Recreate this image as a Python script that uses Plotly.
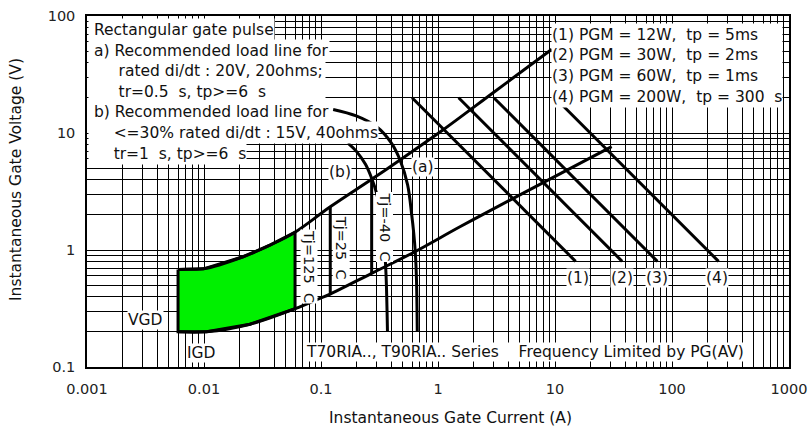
import plotly.graph_objects as go

# axis ticks
x_tickvals = [0.001, 0.01, 0.1, 1, 10, 100, 1000]
x_ticktext = ["0.001", "0.01", "0.1", "1", "10", "100", "1000"]
y_tickvals = [0.1, 1, 10, 100]
y_ticktext = ["0.1", "1", "10", "100"]
minor_digits = [2, 3, 4, 5, 6, 7, 8, 9]

# gate trigger area, upper and lower boundary (A, V)
upper_current = [0.006, 0.0075, 0.0099, 0.0216, 0.0366, 0.06, 0.12, 0.271, 0.473, 1.1, 3.0, 9.4]
upper_voltage = [0.68, 0.685, 0.69, 0.876, 1.10, 1.42, 2.34, 4.02, 5.88, 10.6, 22.3, 52]
lower_current = [0.006, 0.0105, 0.0247, 0.06, 0.098, 0.12, 0.271, 0.635, 1.54, 4.12, 30.5]
lower_voltage = [0.2, 0.2, 0.232, 0.315, 0.386, 0.42, 0.632, 0.967, 1.58, 2.67, 7.64]
green_limit = 0.06  # Tj=125 C edge

# temperature limits
tj25_current = [0.12, 0.12]
tj25_voltage = [0.42, 2.34]
tj40_current = [0.271, 0.271]
tj40_voltage = [0.632, 4.02]

# load lines (a) and (b)
load_a_current = [0.127, 0.2, 0.299, 0.4, 0.473, 0.55, 0.596, 0.62, 0.64, 0.655, 0.665]
load_a_voltage = [15.9, 14.0, 11.3, 8.2, 5.9, 3.6, 2.0, 1.4, 0.95, 0.55, 0.2]
load_b_current = [0.17, 0.2, 0.24, 0.271, 0.3, 0.33, 0.35, 0.36, 0.37]
load_b_voltage = [8.2, 7.0, 5.4, 4.1, 3.0, 1.8, 1.0, 0.6, 0.2]

# peak gate power lines (1)..(4)
pgm_labels = ["(1)", "(2)", "(3)", "(4)"]
pgm_start_current = [0.6, 1.5, 3.0, 10.0]
pgm_end_current = [15.0, 37.5, 75.0, 250.0]
pgm_start_voltage = [20, 20, 20, 20]
pgm_end_voltage = [0.8, 0.8, 0.8, 0.8]

FONT = "DejaVu Sans"
NB = "\u00a0"
LW = 3

fig = go.Figure()

# green area
g_top = [(i, v) for i, v in zip(upper_current, upper_voltage) if i <= green_limit]
g_bot = [(i, v) for i, v in zip(lower_current, lower_voltage) if i <= green_limit]
poly = g_top + g_bot[::-1] + g_top[:1]
fig.add_trace(go.Scatter(
    x=[p[0] for p in poly], y=[p[1] for p in poly],
    mode="lines", fill="toself", fillcolor="#00f000",
    line=dict(color="black", width=LW), hoverinfo="skip"))

black = dict(color="black", width=LW)
fig.add_trace(go.Scatter(x=upper_current, y=upper_voltage, mode="lines",
                         line=dict(black, shape="spline"), name="upper"))
fig.add_trace(go.Scatter(x=lower_current, y=lower_voltage, mode="lines",
                         line=dict(black, shape="spline"), name="lower"))
fig.add_trace(go.Scatter(x=tj25_current, y=tj25_voltage, mode="lines", line=black))
fig.add_trace(go.Scatter(x=tj40_current, y=tj40_voltage, mode="lines", line=black))
fig.add_trace(go.Scatter(x=load_a_current, y=load_a_voltage, mode="lines",
                         line=dict(black, shape="spline"), name="(a)"))
fig.add_trace(go.Scatter(x=load_b_current, y=load_b_voltage, mode="lines",
                         line=dict(black, shape="spline"), name="(b)"))
for k in range(len(pgm_labels)):
    fig.add_trace(go.Scatter(
        x=[pgm_start_current[k], pgm_end_current[k]],
        y=[pgm_start_voltage[k], pgm_end_voltage[k]],
        mode="lines", line=black, name=pgm_labels[k]))


# annotation placement, in pixels (plot area 87..789 x 16..367)
def px(x):
    return (x - 87) / 702


def py(y):
    return (367 - y) / 351


def label(text, x, y, size=15.5, bg="white", xanchor="center", **kw):
    fig.add_annotation(text=text, x=px(x), y=py(y), xref="paper", yref="paper",
                       xanchor=xanchor, yanchor="middle",
                       showarrow=False, bgcolor=bg, borderpad=0,
                       font=dict(family=FONT, size=size, color="#111"), **kw)


left_rows = [
    ("Rectangular gate pulse", None),
    ("a) Recommended load line for", None),
    (NB * 5 + "rated di/dt : 20V, 20ohms;", 236),
    (NB * 5 + "tr=0.5" + NB * 2 + "s, tp>=6" + NB * 2 + "s", 236),
    ("b) Recommended load line for", None),
    (NB * 4 + "<=30% rated di/dt : 15V, 40ohms", None),
    (NB * 4 + "tr=1" + NB * 2 + "s, tp>=6" + NB * 2 + "s", None),
]
for r, (txt, w) in enumerate(left_rows):
    label(NB + txt, 88, 29.5 + 20.6 * r, xanchor="left", align="left", width=w, height=21)

right_rows = [
    "(1) PGM = 12W," + NB * 2 + "tp = 5ms",
    "(2) PGM = 30W," + NB * 2 + "tp = 2ms",
    "(3) PGM = 60W," + NB * 2 + "tp = 1ms",
    "(4) PGM = 200W," + NB * 2 + "tp = 300" + NB * 2 + "s",
]
for r, txt in enumerate(right_rows):
    label(txt, 551, 34 + 20.8 * r, xanchor="left", align="left", width=230, height=21)

label("(b)", 340, 171.7)
label("(a)", 423.3, 167.3)
for txt, x in zip(pgm_labels, [577.7, 621.7, 656.7, 716.7]):
    label(txt, x, 277.7)
label("VGD", 145, 320)
label("IGD", 201.7, 352.7)
label("T70RIA.., T90RIA.. Series" + NB * 4 + "Frequency Limited by PG(AV)", 525, 352)
label("Tj=125" + NB * 2 + "C", 309, 266, size=14.5, textangle=90)
label("Tj=25" + NB * 2 + "C", 341.7, 247.5, size=14.5, textangle=90)
label("Tj=-40" + NB * 2 + "C", 385, 226.5, size=14.5, textangle=90)

# axis titles
label("Instantaneous Gate Current (A)", 450, 418, size=15.5, bg="rgba(0,0,0,0)")
label("Instantaneous Gate Voltage (V)", 16, 180, size=15.5, bg="rgba(0,0,0,0)", textangle=-90)

axis_common = dict(
    type="log", showline=True, linecolor="black", linewidth=1.5, mirror="allticks",
    ticks="inside", ticklen=5, tickcolor="black", automargin=False,
    showgrid=True, gridcolor="black", gridwidth=1, zeroline=False,
    tickfont=dict(family=FONT, size=14.5, color="#222"),
)

fig.update_xaxes(
    axis_common, range=[-3, 3], tickmode="array",
    tickvals=x_tickvals, ticktext=x_ticktext, ticklabelstandoff=8,
    minor=dict(tickmode="array", ticks="inside", ticklen=4, tickcolor="black",
               showgrid=True, gridcolor="black", gridwidth=1,
               tickvals=[d * t for t in x_tickvals[:-1] for d in minor_digits]),
)
fig.update_yaxes(
    axis_common, range=[-1, 2], tickmode="array",
    tickvals=y_tickvals, ticktext=y_ticktext, ticklabelstandoff=7,
    minor=dict(tickmode="array", ticks="inside", ticklen=4, tickcolor="black",
               showgrid=True, gridcolor="black", gridwidth=1,
               tickvals=[d * t for t in y_tickvals[:-1] for d in minor_digits]),
)

fig.update_layout(
    width=808, height=427,
    margin=dict(l=87, r=19, t=16, b=60),
    paper_bgcolor="white", plot_bgcolor="white",
    showlegend=False, hovermode=False,
    font=dict(family=FONT, color="#222"),
)

# drop the default body margin so the figure fills the window exactly
fig.write_html(
    "out.html",
    config={"displayModeBar": False},
    post_script="document.body.style.margin='0';document.body.style.overflow='hidden';",
)
